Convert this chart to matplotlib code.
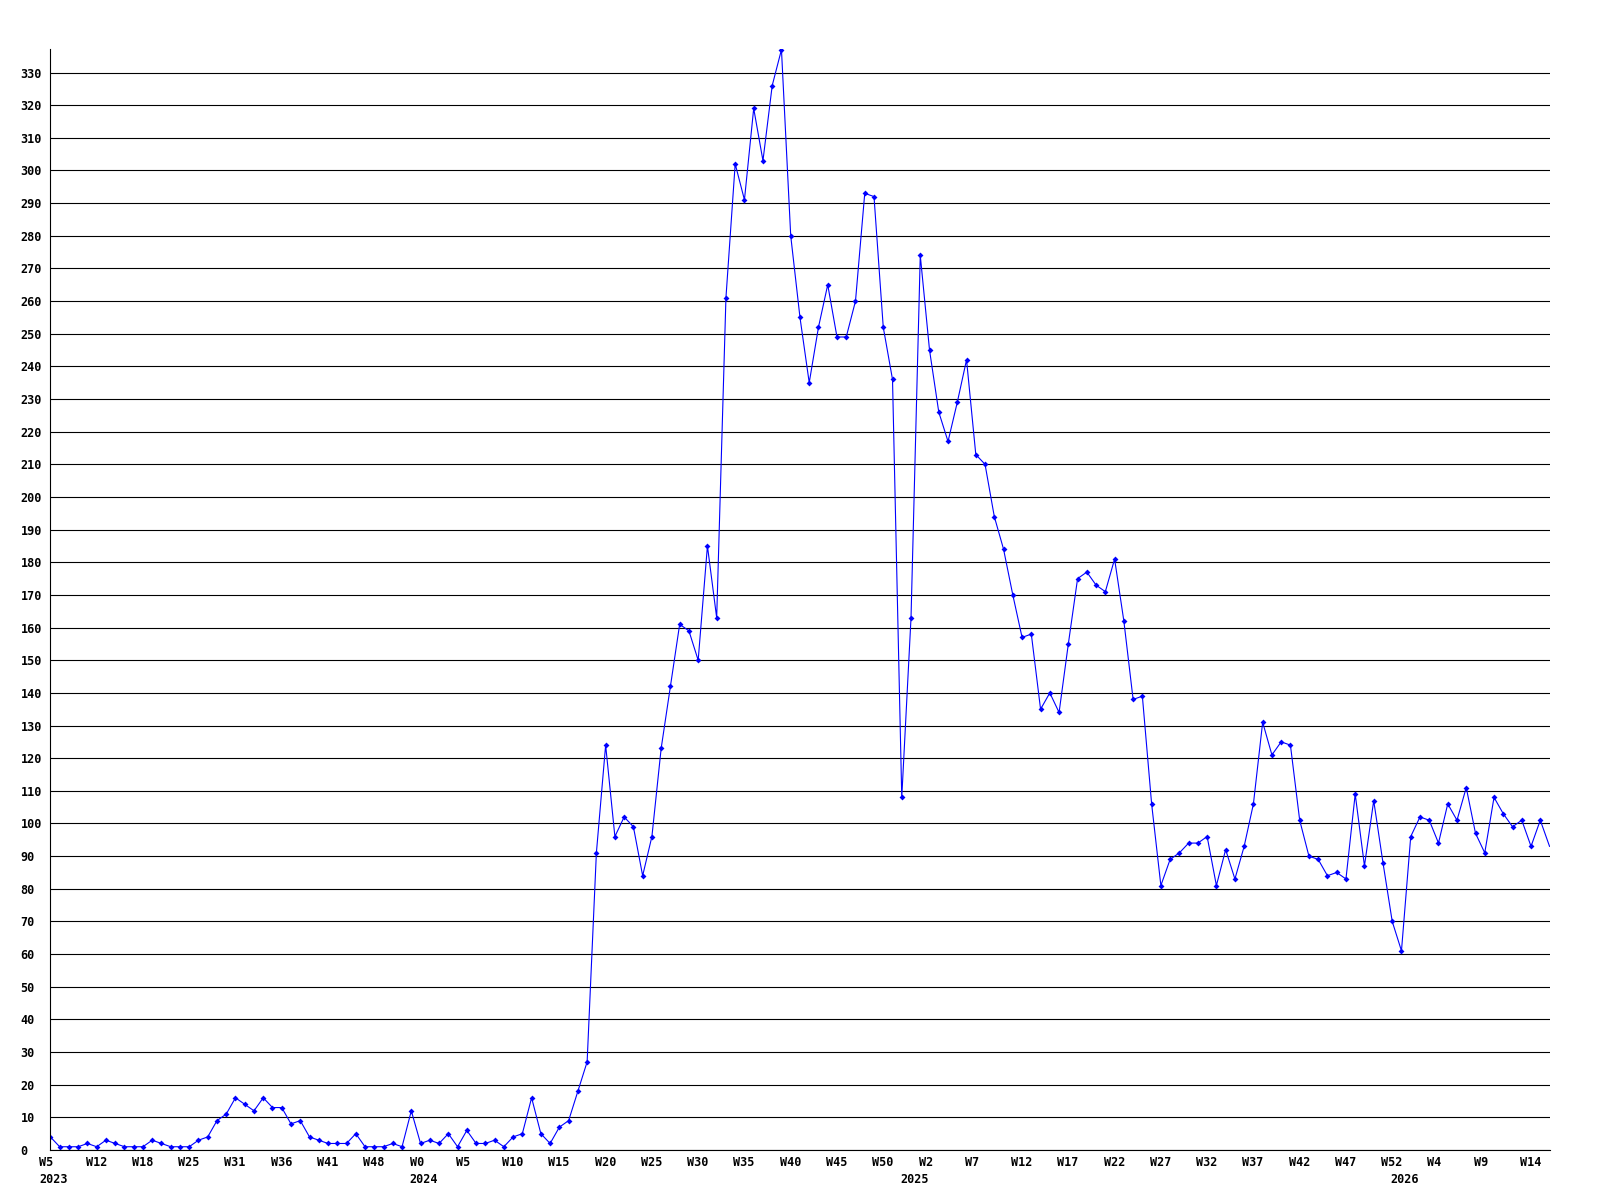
import matplotlib
matplotlib.use("Agg")
import matplotlib.pyplot as plt
from matplotlib.transforms import ScaledTranslation

# weekly values, one per point (last one runs past the right edge)
values = [
    4, 1, 1, 1, 2, 1, 3, 2, 1, 1, 1, 3, 2, 1, 1, 1, 3, 4, 9, 11,
    16, 14, 12, 16, 13, 13, 8, 9, 4, 3, 2, 2, 2, 5, 1, 1, 1, 2, 1, 12,
    2, 3, 2, 5, 1, 6, 2, 2, 3, 1, 4, 5, 16, 5, 2, 7, 9, 18, 27,
    91, 124, 96, 102, 99, 84, 96, 123, 142, 161, 159, 150, 185, 163,
    261, 302, 291, 319, 303, 326, 337, 280, 255, 235, 252, 265, 249, 249,
    260, 293, 292, 252, 236, 108,
    163, 274, 245, 226, 217, 229, 242, 213, 210, 194, 184, 170, 157, 158,
    135, 140, 134, 155, 175, 177, 173, 171, 181, 162, 138, 139, 106,
    81, 89, 91, 94, 94, 96, 81, 92, 83, 93, 106, 131, 121, 125, 124, 101,
    90, 89, 84, 85, 83, 109, 87, 107, 88, 70, 61,
    96, 102, 101, 94, 106, 101, 111, 97, 91, 108, 103, 99, 101, 93, 101, 93,
]

week_labels = ["W5", "W12", "W18", "W25", "W31", "W36", "W41", "W48",
               "W0", "W5", "W10", "W15", "W20", "W25", "W30", "W35", "W40",
               "W45", "W50", "W2", "W7", "W12", "W17", "W22", "W27", "W32",
               "W37", "W42", "W47", "W52", "W4", "W9", "W14"]
years = ["2023", "2024", "2025", "2026"]
year_start = [0, 40, 93, 146]   # index of first point in each year

label_every = 5
font = dict(family="DejaVu Sans Mono", weight="bold", size=8.5)

fig = plt.figure(figsize=(16, 12), dpi=100)
ax = fig.add_axes([50.4 / 1600, 50 / 1200, 1499.6 / 1600, 1101 / 1200])

x = list(range(len(values)))
ax.plot(x, values, color="#0000ff", lw=0.8, marker="D", ms=3.0, mew=0,
        markevery=list(range(len(values) - 1)))

ax.set_xlim(0, 162.05)
ax.set_ylim(0, 337.2)

ax.set_yticks(range(0, 331, 10))
ax.set_yticklabels([str(v) for v in range(0, 331, 10)], fontdict=font, ha="left")
ax.tick_params(axis="y", length=0, pad=21.6)
ax.yaxis.grid(True, color="black", lw=0.8)
ax.set_axisbelow(True)

xt = list(range(0, len(week_labels) * label_every, label_every))
ax.set_xticks(xt)
ax.set_xticklabels(week_labels, fontdict=font, ha="left")
ax.tick_params(axis="x", length=0, pad=4.0)
shift = ScaledTranslation(-11 / 100, 0, fig.dpi_scale_trans)
for lab in ax.get_xticklabels():
    lab.set_transform(lab.get_transform() + shift)

for yr, i in zip(years, year_start):
    ax.annotate(yr, xy=(i, 0), xycoords=("data", "axes fraction"),
                xytext=(-11 * 0.72, -16.5), textcoords="offset points",
                ha="left", va="top", **font)

for s in ("top", "right"):
    ax.spines[s].set_visible(False)
for s in ("left", "bottom"):
    ax.spines[s].set_color("black")
    ax.spines[s].set_linewidth(0.8)

fig.savefig("out.png", dpi=100, facecolor="white")
